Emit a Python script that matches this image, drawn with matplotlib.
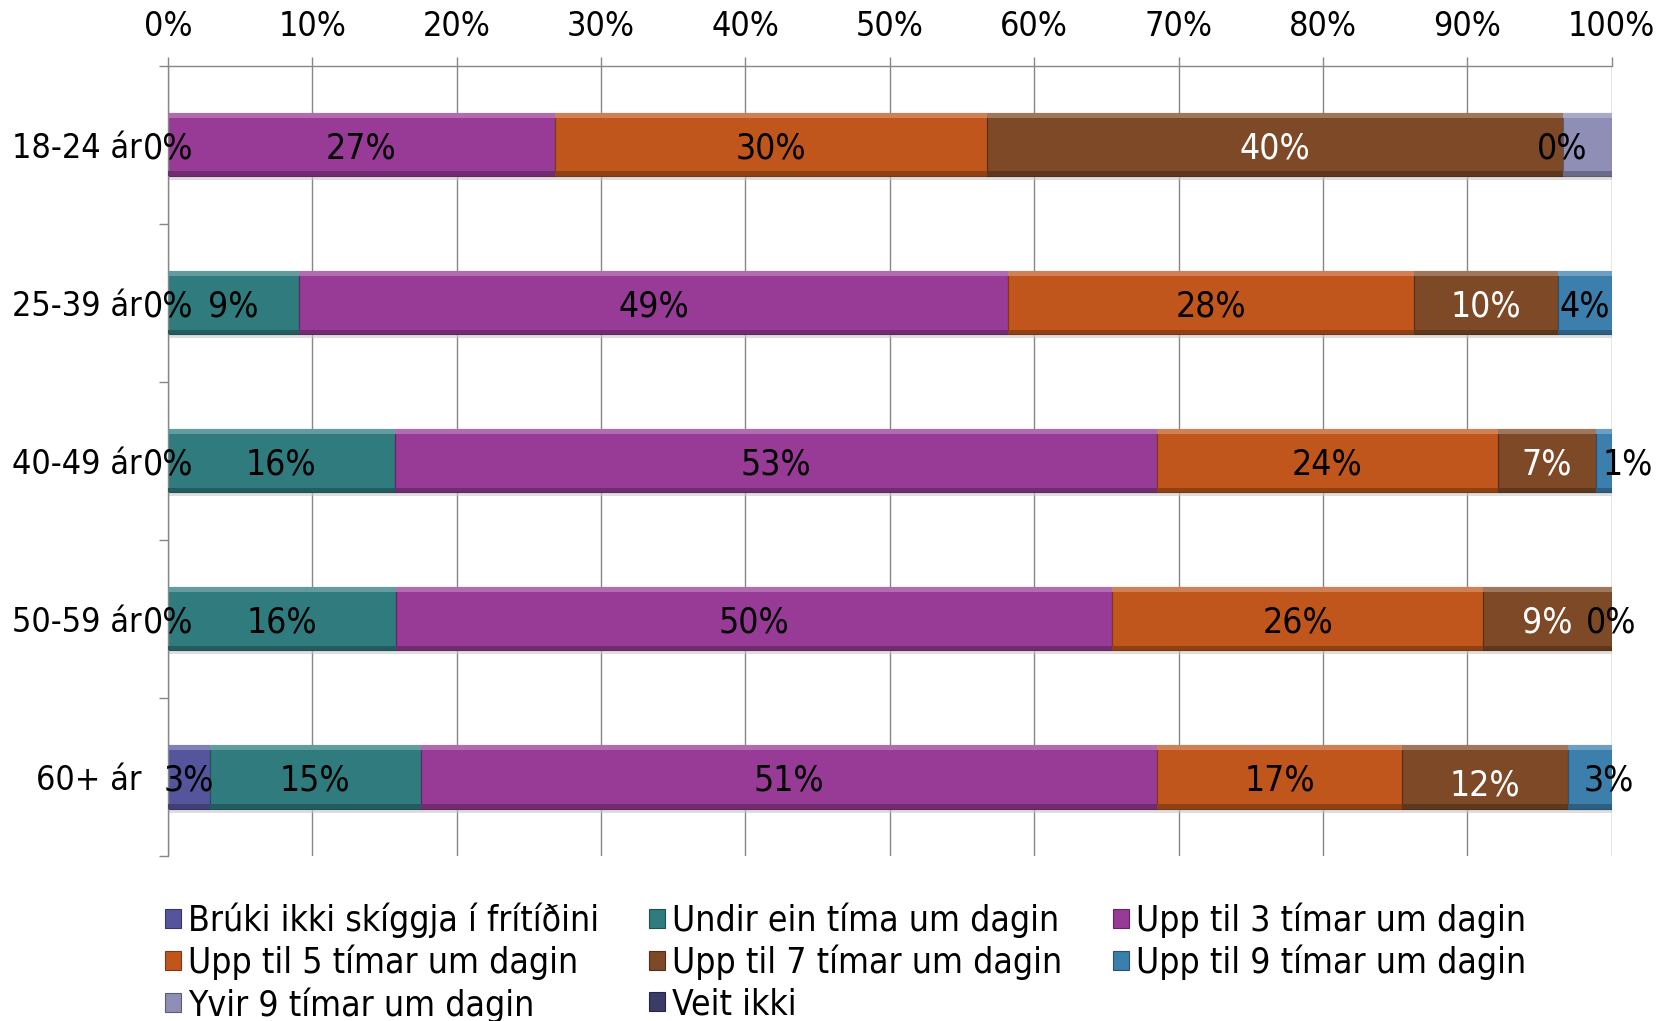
import numpy as np
import matplotlib.pyplot as plt
from matplotlib import colors as mcolors
from matplotlib.patches import Patch

nan = np.nan

groups = ['18-24 ár', '25-39 ár', '40-49 ár', '50-59 ár', '60+ ár']
series = ['Brúki ikki skíggja í frítíðini', 'Undir ein tíma um dagin', 'Upp til 3 tímar um dagin',
          'Upp til 5 tímar um dagin', 'Upp til 7 tímar um dagin', 'Upp til 9 tímar um dagin',
          'Yvir 9 tímar um dagin', 'Veit ikki']

# share in percent, nan = no value for that group
bruki = [0, 0, 0, 0, 2.9]
undir = [nan, 9.1, 15.7, 15.8, 14.6]
upp3 = [26.8, 49.1, 52.8, 49.6, 51.0]
upp5 = [29.9, 28.1, 23.6, 25.7, 17.0]
upp7 = [39.9, 10.0, 6.8, 8.9, 11.5]
upp9 = [0, 3.7, 1.1, 0, 3.0]
yvir9 = [3.4, nan, nan, nan, nan]
veit = [nan, nan, nan, nan, nan]

values = [bruki, undir, upp3, upp5, upp7, upp9, yvir9, veit]
colours = ['#55559e', '#2f7b7e', '#973b96', '#c0561b', '#7d4927', '#3c7fad', '#8e8eb6', '#3b3b68']
text_colours = ['black', 'black', 'black', 'black', 'white', 'black', 'black', 'black']
hide_labels = {(6, 0)}  # label of Yvir 9 in 18-24 is not shown
# a few labels were nudged by hand in the original (dx in %, dy in rows)
label_nudge = {(5, 2): (1.7, 0.0), (5, 4): (1.3, 0.0), (4, 4): (0.0, 0.03)}

grey = '#878787'
fs = 24.5

plt.rcParams['font.family'] = ['DejaVu Sans']
plt.rcParams['font.stretch'] = 'condensed'

fig = plt.figure(figsize=(16.57, 10.21), dpi=100)
ax = fig.add_axes([0.1014, 0.1616, 0.8712, 0.7742])

y = np.arange(len(groups))
h = 0.4


def shade(c, f):
    r = np.array(mcolors.to_rgb(c))
    if f > 0:
        r = r + (1 - r) * f
    else:
        r = r * (1 + f)
    return tuple(np.clip(r, 0, 1))


left = np.zeros(len(groups))
for i, (vals, c) in enumerate(zip(values, colours)):
    v = np.array(vals, dtype=float)
    ok = ~np.isnan(v)
    w = np.where(ok, v, 0)
    # drop shadow
    ax.barh(y[ok] + 0.025, w[ok], left=left[ok], height=h, color='#c8c8c8', alpha=0.6, zorder=1, lw=0)
    ax.barh(y[ok], w[ok], left=left[ok], height=h, color=c, edgecolor=shade(c, -0.35), lw=0.8, zorder=2)
    # bevel: light top, dark bottom
    ax.barh(y[ok] - h / 2 + 0.015, w[ok], left=left[ok], height=0.03, color=shade(c, 0.25), lw=0, zorder=3)
    ax.barh(y[ok] + h / 2 - 0.015, w[ok], left=left[ok], height=0.03, color=shade(c, -0.25), lw=0, zorder=3)
    for j in np.where(ok)[0]:
        if (i, j) in hide_labels:
            continue
        dx, dy = label_nudge.get((i, j), (0, 0))
        ax.text(left[j] + w[j] / 2 + dx, y[j] + dy, f'{w[j]:.0f}%', ha='center', va='center_baseline',
                fontsize=fs + 1, color=text_colours[i], zorder=5)
    left = left + w

ax.set_xlim(0, 100)
ax.set_ylim(len(groups) - 0.5, -0.5)

ax.xaxis.tick_top()
ax.set_xticks(np.arange(0, 101, 10))
ax.set_xticklabels([f'{t}%' for t in range(0, 101, 10)], fontsize=fs)
ax.tick_params(axis='x', direction='out', length=6.5, width=1, color=grey, pad=10)

ax.set_yticks(y)
ax.set_yticklabels(groups, fontsize=fs)
ax.set_yticks(np.arange(-0.5, len(groups)), minor=True)
ax.tick_params(axis='y', which='major', length=0, pad=19)
ax.tick_params(axis='y', which='minor', direction='out', length=6.5, width=1, color=grey)

ax.grid(axis='x', color=grey, lw=1)
ax.set_axisbelow(True)
for s in ['bottom', 'right']:
    ax.spines[s].set_visible(False)
for s in ['top', 'left']:
    ax.spines[s].set_color(grey)
    ax.spines[s].set_linewidth(1)

handles = [Patch(facecolor=c, edgecolor=shade(c, -0.35), lw=0.8) for c in colours]
order = [0, 3, 6, 1, 4, 7, 2, 5]
fig.legend([handles[k] for k in order], [series[k] for k in order], loc='upper left',
           bbox_to_anchor=(0.0996, 0.116), ncol=3, frameon=False, fontsize=fs + 1,
           handlelength=0.45, handleheight=0.45, handletextpad=0.2, columnspacing=1.42,
           labelspacing=0.19, borderpad=0, borderaxespad=0)

fig.savefig('out.png', dpi=100)
